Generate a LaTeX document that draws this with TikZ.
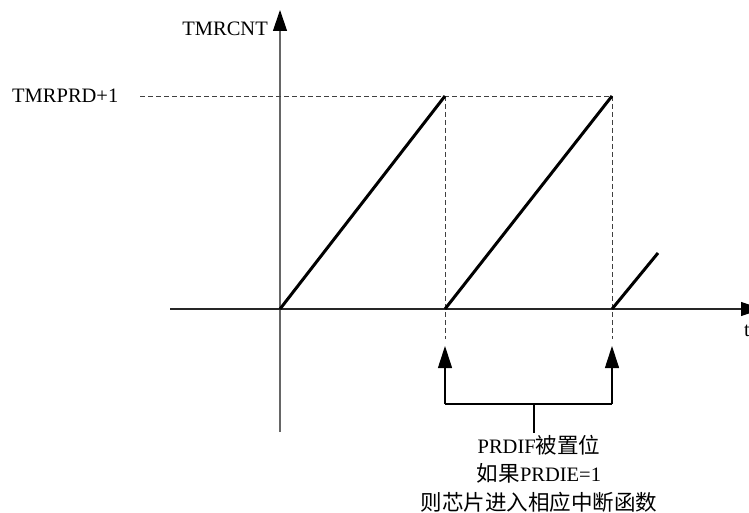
\documentclass[tikz,border=0pt]{standalone}
\usepackage{fontspec}
\setmainfont{Liberation Serif}
\newfontfamily\cjk[Scale=1.05]{Noto Sans CJK SC}
\usetikzlibrary{arrows.meta}
\begin{document}
\begin{tikzpicture}[x=1pt,y=-1pt,
  axis/.style={line width=1.2pt,-{Triangle[length=21pt,width=14pt,color=black]}},
  guide/.style={line width=0.9pt,black!75,dash pattern=on 5pt off 3pt},
  ramp/.style={line width=3pt},
  up/.style={line width=1.1pt,-{Triangle[length=22pt,width=14pt]}},
  lbl/.style={font=\fontsize{20.5pt}{24pt}\selectfont,inner sep=0pt}]
\useasboundingbox (0,0) rectangle (749,513);
% coordinates
\coordinate (yb) at (280,432);
\coordinate (yt) at (280,10);
\coordinate (xl) at (170,309);
\coordinate (xr) at (762,309);
\coordinate (o) at (280,309);
\coordinate (p1) at (445,96);
\coordinate (b1) at (445,309);
\coordinate (p2) at (612,96);
\coordinate (b2) at (612,309);
\coordinate (e3) at (658,253);
\coordinate (dl) at (140,96);
\coordinate (d1) at (445,339);
\coordinate (d2) at (612,339);
\coordinate (a1) at (445,404);
\coordinate (a1t) at (445,346);
\coordinate (a2) at (612,404);
\coordinate (a2t) at (612,346);
\coordinate (sm) at (534,404);
\coordinate (sb) at (534,433);
% axes
\draw[axis,black!60] (yb) -- (yt);
\draw[axis,black!85] (xl) -- (xr);
% labels
\node[lbl,anchor=east] (ylab) at (268,29) {TMRCNT};
\node[lbl,anchor=west] (plab) at (12,96) {TMRPRD+1};
\node[lbl,anchor=west] (tlab) at (744,331) {t};
% guides
\draw[guide] (dl) -- (p2);
\draw[guide] (p1) -- (d1);
\draw[guide] (p2) -- (d2);
% ramps
\draw[ramp] (o) -- (p1);
\draw[ramp] (b1) -- (p2);
\draw[ramp] (b2) -- (e3);
% bracket arrows
\draw[up] (a1) -- (a1t);
\draw[up] (a2) -- (a2t);
\draw[line width=1.1pt] (a1) -- (a2);
\draw[line width=1.1pt] (sm) -- (sb);
\node[lbl,anchor=north,align=center,font=\fontsize{20.5pt}{28.5pt}\selectfont] (note) at (539,435)
  {PRDIF{\cjk 被置位}\\{\cjk 如果}PRDIE=1\\{\cjk 则芯片进入相应中断函数}};
\end{tikzpicture}
\end{document}
